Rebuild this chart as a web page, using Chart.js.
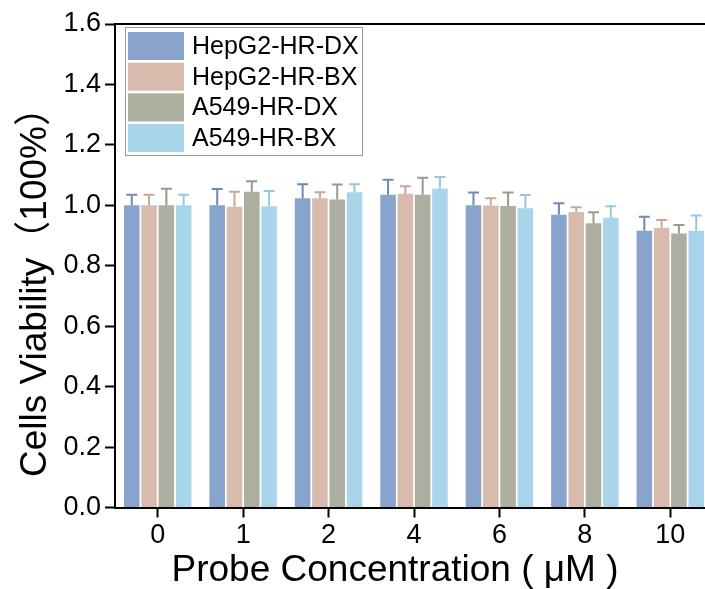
<!DOCTYPE html>
<html>
<head>
<meta charset="utf-8">
<script src="https://cdn.jsdelivr.net/npm/chart.js@4/dist/chart.umd.min.js"></script>
<style>
    html, body { margin: 0; padding: 0; background: #fff; overflow: hidden; }
    #wrap { width: 720px; height: 589px; }
</style>
</head>
<body>
<div id="wrap"><canvas id="canvas-chart" width="720" height="589"></canvas></div>
<script>
// data
const categories = ["0", "1", "2", "4", "6", "8", "10"];
const seriesNames = ["HepG2-HR-DX", "HepG2-HR-BX", "A549-HR-DX", "A549-HR-BX"];
const hepDX = [1.000, 1.000, 1.023, 1.035, 1.000, 0.969, 0.916];
const hepDXErr = [0.035, 0.054, 0.047, 0.050, 0.042, 0.038, 0.046];
const hepBX = [1.000, 0.995, 1.023, 1.038, 0.999, 0.978, 0.926];
const hepBXErr = [0.035, 0.050, 0.020, 0.025, 0.024, 0.016, 0.025];
const a549DX = [1.000, 1.045, 1.019, 1.035, 0.998, 0.941, 0.907];
const a549DXErr = [0.055, 0.035, 0.050, 0.056, 0.044, 0.036, 0.028];
const a549BX = [1.000, 0.997, 1.043, 1.056, 0.990, 0.959, 0.916];
const a549BXErr = [0.035, 0.050, 0.027, 0.038, 0.044, 0.038, 0.050];
const yTicks = [0, 0.2, 0.4, 0.6, 0.8, 1.0, 1.2, 1.4, 1.6];

const COLOR = ["#88a4cc", "#d9bbae", "#adaea0", "#a9d5eb"];
const ERR_COLOR = ["#7189b3", "#c9a898", "#9a9a8c", "#97c8e2"];
const FONT = "Arial, 'Liberation Sans', 'Noto Sans CJK SC', sans-serif";

const values = [hepDX, hepBX, a549DX, a549BX];
const errors = [hepDXErr, hepBXErr, a549DXErr, a549BXErr];

let datasets = [];
for (let i = 0; i < seriesNames.length; i++) {
    datasets.push({
        label: seriesNames[i],
        data: values[i],
        errors: errors[i],
        backgroundColor: COLOR[i],
        borderWidth: 0,
        categoryPercentage: 0.81,
        barPercentage: 0.9,
    });
}

// upward error bars with caps
const errorBars = {
    id: "errorBars",
    afterDatasetsDraw(chart) {
        let ctx = chart.ctx;
        let y = chart.scales.y;
        ctx.save();
        ctx.lineWidth = 2;
        chart.data.datasets.forEach((ds, i) => {
            let meta = chart.getDatasetMeta(i);
            ctx.strokeStyle = ERR_COLOR[i];
            meta.data.forEach((bar, j) => {
                let top = y.getPixelForValue(ds.data[j] + ds.errors[j]);
                ctx.beginPath();
                ctx.moveTo(bar.x, bar.y);
                ctx.lineTo(bar.x, top);
                ctx.moveTo(bar.x - 5.5, top);
                ctx.lineTo(bar.x + 5.5, top);
                ctx.stroke();
            });
        });
        ctx.restore();
    }
};

// legend box inside the plot, top line, axis titles
const decorations = {
    id: "decorations",
    afterDraw(chart) {
        let ctx = chart.ctx;
        let area = chart.chartArea;
        ctx.save();

        // top frame line
        ctx.strokeStyle = "#000";
        ctx.lineWidth = 2;
        ctx.beginPath();
        ctx.moveTo(area.left - 1, area.top);
        ctx.lineTo(area.right, area.top);
        ctx.stroke();

        // legend
        let bx = area.left + 10, by = area.top + 3;
        ctx.strokeStyle = "#9a9a9a";
        ctx.lineWidth = 1;
        ctx.strokeRect(bx + 0.5, by + 0.5, 237, 128);
        ctx.font = "25px " + FONT;
        ctx.textBaseline = "middle";
        ctx.textAlign = "left";
        chart.data.datasets.forEach((ds, i) => {
            let ry = by + 5 + i * 30.7;
            ctx.fillStyle = ds.backgroundColor;
            ctx.fillRect(bx + 3, ry, 56, 28);
            ctx.fillStyle = "#000";
            ctx.fillText(ds.label, bx + 67, ry + 15);
        });

        // axis titles
        ctx.fillStyle = "#000";
        ctx.font = "37px " + FONT;
        ctx.textAlign = "center";
        ctx.textBaseline = "alphabetic";
        ctx.fillText("Probe Concentration ( μM )", 395, 581);
        ctx.translate(46, 283);
        ctx.rotate(-Math.PI / 2);
        ctx.fillText("Cells Viability（100%）", 0, 0);
        ctx.restore();
    }
};

new Chart(document.getElementById("canvas-chart"), {
    type: "bar",
    data: {
        labels: categories,
        datasets: datasets,
    },
    options: {
        responsive: false,
        animation: false,
        devicePixelRatio: 1,
        layout: { padding: { top: 24, right: 7, left: 0, bottom: 0 } },
        plugins: {
            legend: { display: false },
            tooltip: { enabled: false },
        },
        scales: {
            x: {
                afterFit: (s) => { s.height = 81.5; },
                border: { display: true, color: "#000", width: 2 },
                grid: {
                    offset: false,
                    drawOnChartArea: false,
                    drawTicks: true,
                    tickLength: 10,
                    tickWidth: 2,
                    tickColor: "#000",
                },
                ticks: {
                    color: "#000",
                    font: { family: FONT, size: 27 },
                    padding: 2,
                    maxRotation: 0,
                },
            },
            y: {
                min: 0,
                max: 1.6,
                afterFit: (s) => { s.width = 115; },
                afterBuildTicks: (s) => { s.ticks = yTicks.map(v => ({ value: v })); },
                border: { display: true, color: "#000", width: 2 },
                grid: {
                    drawOnChartArea: false,
                    drawTicks: true,
                    tickLength: 10,
                    tickWidth: 2,
                    tickColor: "#000",
                },
                ticks: {
                    color: "#000",
                    font: { family: FONT, size: 27 },
                    padding: 4,
                    callback: (v) => Number(v).toFixed(1),
                },
            },
        },
    },
    plugins: [errorBars, decorations],
});
</script>
</body>
</html>
